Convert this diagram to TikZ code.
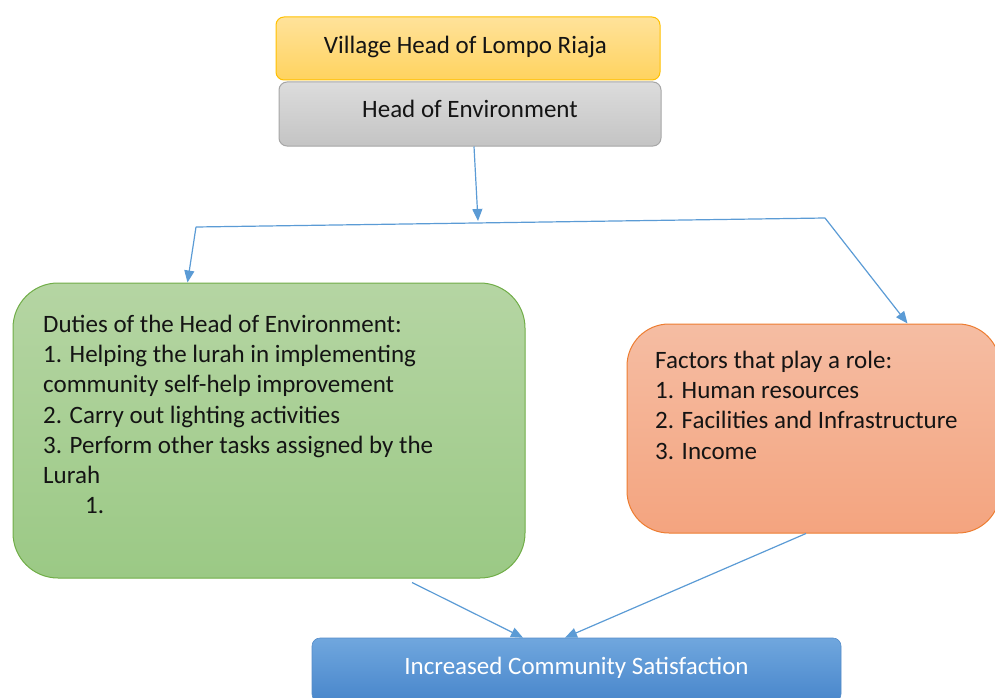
\documentclass[tikz,border=0pt]{standalone}
\usepackage{fontspec}
\setmainfont{Carlito}
\usetikzlibrary{arrows.meta,calc}

\definecolor{linkblue}{HTML}{5B9BD5}
\definecolor{txt}{HTML}{141414}
\definecolor{goldline}{HTML}{FFC000}
\definecolor{goldtop}{HTML}{FFE29A}
\definecolor{goldbot}{HTML}{FFD35F}
\definecolor{greyline}{HTML}{A6A6A6}
\definecolor{greytop}{HTML}{DCDCDC}
\definecolor{greybot}{HTML}{C4C4C4}
\definecolor{greenline}{HTML}{70AD47}
\definecolor{greentop}{HTML}{B5D5A3}
\definecolor{greenbot}{HTML}{9BC985}
\definecolor{orangeline}{HTML}{ED7D31}
\definecolor{orangetop}{HTML}{F5BDA3}
\definecolor{orangebot}{HTML}{F4A47F}
\definecolor{blueline}{HTML}{548CC8}
\definecolor{bluetop}{HTML}{70A7DE}
\definecolor{bluebot}{HTML}{4886CB}

\tikzset{
  x=1pt, y=1pt,
  card/.style={draw, line width=1pt, rounded corners=#1, inner sep=0pt, text=txt},
  link/.style={draw=linkblue, line width=1.2pt, -{Triangle[length=12pt,width=10pt]}},
  plain/.style={draw=linkblue, line width=1.2pt},
  body/.style={anchor=north west, align=left, text=txt, font=\fontsize{25}{30.2}\selectfont, inner sep=0pt},
  title/.style={font=\fontsize{25}{28}\selectfont},
}

\begin{document}
\begin{tikzpicture}
\useasboundingbox (0,0) rectangle (995,-698);
\clip (0,0) rectangle (995,-698);

% top chain
\node[card=8pt, draw=goldline, top color=goldtop, bottom color=goldbot,
      minimum width=384pt, minimum height=63pt] (village) at (468,-48.5) {};
\node[txt, title] (villagetext) at (465.5,-47) {Village Head of Lompo Riaja};
\node[card=8pt, draw=greyline, top color=greytop, bottom color=greybot,
      minimum width=382pt, minimum height=64pt] (env) at (470,-114) {};
\node[txt, title] (envtext) at (470,-109) {Head of Environment};

% middle boxes
\node[card=45pt, draw=greenline, top color=greentop, bottom color=greenbot,
      minimum width=512pt, minimum height=295pt] (duties) at (269,-430.5) {};
\node[card=42pt, draw=orangeline, top color=orangetop, bottom color=orangebot,
      minimum width=373pt, minimum height=209pt] (factors) at (813.5,-428.5) {};

\node[body] (dutiestext) at (43,-315) {Duties of the Head of Environment:\\
1. Helping the lurah in implementing\\
community self-help improvement\\
2. Carry out lighting activities\\
3. Perform other tasks assigned by the\\
Lurah\\
\hspace*{42pt}1.};

\node[body] (factorstext) at (655,-351) {Factors that play a role:\\
1. Human resources\\
2. Facilities and Infrastructure\\
3. Income};

% bottom box
\node[card=8pt, draw=blueline, line width=0.6pt, top color=bluetop, bottom color=bluebot,
      minimum width=529pt, minimum height=64pt] (result) at (576.5,-670) {};
\node[text=white, title] (resulttext) at (576.5,-668) {Increased Community Satisfaction};

% connectors
\coordinate (jL) at (196,-227);
\coordinate (jM) at (478,-221);
\coordinate (jR) at (825,-218);

\draw[link] ($(env.south)+(4,0)$) -- (jM);
\draw[plain] (jL) -- (jR);
\draw[link] (jL) -- ($(duties.north west)+(175,0)$);
\draw[link] (jR) -- ($(factors.north west)+(281,0)$);
\draw[link] ($(duties.south)+(143,-4)$) -- ($(result.north)+(-53.5,0)$);
\draw[link] ($(factors.south)+(-7.5,0)$) -- ($(result.north)+(-11.5,0)$);
\end{tikzpicture}
\end{document}
